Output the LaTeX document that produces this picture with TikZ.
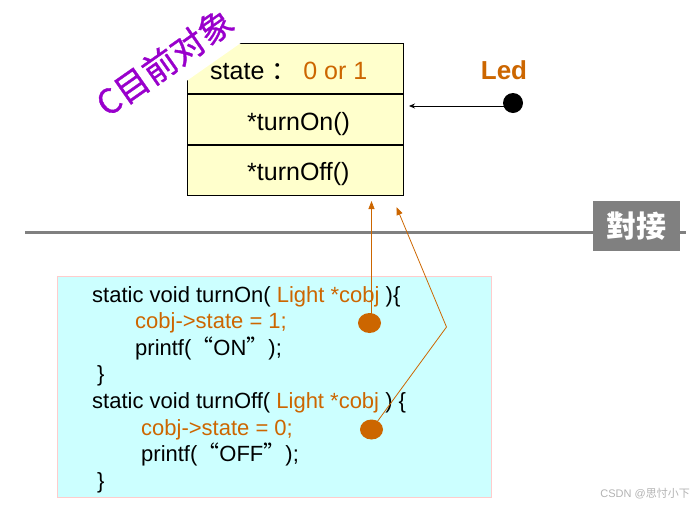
\documentclass[tikz,border=0pt]{standalone}
\usepackage{fontspec}
\setmainfont{Liberation Sans}
\newfontfamily\cjk{Noto Sans CJK SC}
\newfontfamily\cjkheavy{Noto Sans CJK SC}[FakeBold=1]
\usetikzlibrary{arrows.meta,positioning,shapes.geometric}
\definecolor{ledOrange}{RGB}{204,102,0}
\definecolor{ledPurple}{RGB}{153,0,204}
\definecolor{ledYellow}{RGB}{255,255,204}
\definecolor{ledCyan}{RGB}{204,255,255}
\definecolor{ledPink}{RGB}{255,204,204}
\definecolor{ledGray}{RGB}{128,128,128}

\begin{document}
\begin{tikzpicture}[x=1pt,y=-1pt,
  row/.style={draw=black, line width=0.8pt, fill=ledYellow, minimum width=216pt, minimum height=50.3pt, inner sep=0pt},
  rowtext/.style={anchor=base west, inner sep=0pt, font=\fontsize{25}{30}\selectfont},
  code/.style={anchor=base west, inner sep=0pt, font=\fontsize{22}{26}\selectfont},
  dot/.style={ellipse, fill=ledOrange, minimum width=23pt, minimum height=20pt, inner sep=0pt},
  link/.style={ledOrange, line width=0.8pt, -{Triangle[length=8pt,width=6pt]}}]
\useasboundingbox (0,0) rectangle (697,507);
\node[row] (attrRow) at (295,68.5) {};
\node[row, below=0pt of attrRow] (onRow) {};
\node[row, below=0pt of onRow] (offRow) {};
\node[rowtext] (attrText) at (210,79) {state {\cjk ：} \textcolor{ledOrange}{0 or 1}};
\node[rowtext] (onText) at (247,130) {*turnOn()};
\node[rowtext] (offText) at (247,180) {*turnOff()};
\node[rotate=35, anchor=base, fill=white, text=ledPurple, text height=30pt, text depth=0pt,
  inner ysep=15pt, inner xsep=4pt, font=\cjkheavy\fontsize{34}{34}\selectfont] (objTag) at (172,72.8) {C目前对象};

\node[circle, fill=black, minimum size=20pt, inner sep=0pt] (ledDot) at (513,103) {};
\node[anchor=base, text=ledOrange, inner sep=0pt, font=\bfseries\fontsize{26}{30}\selectfont] (ledLabel) at (504,79) {Led};
\coordinate (ledTip) at (409,106);
\draw[line width=0.8pt, -{Stealth[length=6pt,width=5pt]}] (ledDot.center |- ledTip) -- (ledTip);

\draw[ledGray, line width=3pt] (25,232) -- (686,232);
\node[fill=ledGray, text=white, minimum width=87pt, minimum height=50pt, inner sep=0pt,
  font=\cjk\bfseries\fontsize{30}{30}\selectfont] (joinTag) at (636.5,226) {對接};

\node[draw=ledPink, fill=ledCyan, line width=0.8pt, anchor=north west, minimum width=434pt, minimum height=221pt] (codeBox) at (57,276) {};
\foreach \n/\x/\y/\t in {
  1/92/302/{static void turnOn( \textcolor{ledOrange}{Light *cobj} )\{},
  2/135/328/{\textcolor{ledOrange}{cobj->state = 1;}},
  3/135/355/{printf({\cjk “}ON{\cjk ”});},
  4/97/381/{\}},
  5/92/408/{static void turnOff( \textcolor{ledOrange}{Light *cobj} ) \{},
  6/141/435/{\textcolor{ledOrange}{cobj->state = 0;}},
  7/141/461/{printf({\cjk “}OFF{\cjk ”});},
  8/97/488/{\}}}
{
\node[code] (line\n) at (\x,\y) {\t};
}

\node[dot] (onDot) at (369.5,323) {};
\node[dot] (offDot) at (371.5,429.5) {};
\coordinate (onTip) at (371.5,201);
\coordinate (offBend) at (446.5,327);
\coordinate (offTip) at (396.5,207);
\draw[link] (onDot.center -| onTip) -- (onTip);
\draw[link] (offDot.center) -- (offBend) -- (offTip);

\node[anchor=base east, text=black!30, inner sep=0pt, font=\fontsize{11}{12}\selectfont] (mark) at (690,497) {CSDN @{\cjk 思忖小下}};
\end{tikzpicture}
\end{document}
